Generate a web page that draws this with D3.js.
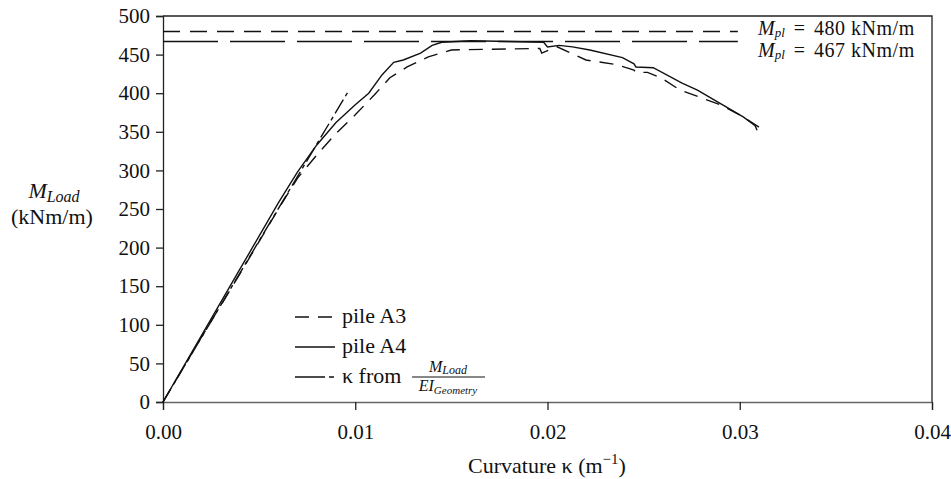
<!DOCTYPE html>
<html><head><meta charset="utf-8">
<script src="https://cdn.jsdelivr.net/npm/d3@7"></script>
<style>
body{margin:0;background:#fff;}
text{font-family:"Liberation Serif","Times New Roman",serif;fill:#111;}
</style></head>
<body><svg id="c" width="951" height="479"></svg>
<script>
// ---- data ----
const xTicks = [0, 0.01, 0.02, 0.03, 0.04];
const yTicks = [0, 50, 100, 150, 200, 250, 300, 350, 400, 450, 500];
const pileA3 = [[0,0],[0.002,84],[0.004,166],[0.006,250],[0.007,290],[0.008,320],[0.009,348],[0.010,372],[0.011,398],[0.0118,420],[0.0127,434],[0.0138,447],[0.015,456],[0.0196,458],[0.0197,452],[0.0205,460],[0.0212,452],[0.022,443],[0.0236,437],[0.0245,430],[0.0246,427],[0.0252,427],[0.0259,420],[0.0269,404],[0.029,385],[0.0302,369],[0.031,356]];
const pileA4 = [[0,0],[0.002,86],[0.004,172],[0.006,258],[0.007,298],[0.008,333],[0.009,362],[0.010,385],[0.0107,400],[0.0114,424],[0.012,440],[0.0125,443],[0.0134,452],[0.014,462],[0.0145,466],[0.016,468],[0.0198,466],[0.020,460],[0.0206,462],[0.0213,460],[0.0222,456],[0.0239,446],[0.0245,438],[0.0246,434],[0.0255,433],[0.027,413],[0.0278,404],[0.0302,369],[0.0308,358],[0.0309,352]];
const kappaGeom = [[0,0],[0.0097,405]];
const mplValues = [480, 467];
const mplEnd = 0.0299;

const svg = d3.select("#c");
const L=163, R=932, T=16, B=402;
const x = d3.scaleLinear().domain([0,0.04]).range([L,R]);
const y = d3.scaleLinear().domain([0,500]).range([B,T]);

// frame (top & right)
svg.append("path").attr("d",`M${L},${T}H${R}V${B}`).attr("fill","none").attr("stroke","#222").attr("stroke-width",1.3);

const gx = svg.append("g").attr("transform",`translate(0,${B})`)
  .call(d3.axisBottom(x).tickValues(xTicks).tickFormat(d3.format(".2f")).tickSize(8).tickPadding(14));
const gy = svg.append("g").attr("transform",`translate(${L},0)`)
  .call(d3.axisLeft(y).tickValues(yTicks).tickFormat(d3.format("d")).tickSize(7).tickPadding(6));
[gx,gy].forEach(g=>{
  g.selectAll("path.domain").attr("stroke","#222").attr("stroke-width",1.3);
  g.selectAll(".tick line").attr("stroke","#222").attr("stroke-width",1.3);
  g.selectAll("text").style("font-family",'"Liberation Serif",serif').style("font-size","21px").attr("fill","#111");
});
gx.select("path.domain").attr("stroke","#666");

const line = d3.line().x(d=>x(d[0])).y(d=>y(d[1]));
// Mpl lines
svg.append("path").datum([[0,mplValues[0]],[mplEnd,mplValues[0]]]).attr("d",line)
  .attr("fill","none").attr("stroke","#111").attr("stroke-width",1.4).attr("stroke-dasharray","17,10");
svg.append("path").datum([[0,mplValues[1]],[mplEnd,mplValues[1]]]).attr("d",line)
  .attr("fill","none").attr("stroke","#111").attr("stroke-width",1.4).attr("stroke-dasharray","55,12");

svg.append("path").datum(pileA3).attr("d",line).attr("fill","none").attr("stroke","#111")
  .attr("stroke-width",1.4).attr("stroke-dasharray","14,9");
svg.append("path").datum(pileA4).attr("d",line).attr("fill","none").attr("stroke","#111")
  .attr("stroke-width",1.4);
svg.append("path").datum(kappaGeom).attr("d",line).attr("fill","none").attr("stroke","#111")
  .attr("stroke-width",1.4).attr("stroke-dasharray","16,4,4,4");

// Mpl labels
function mpl(yb, v){
  const t = svg.append("text").attr("x",758).attr("y",yb).style("font-size","20px");
  t.append("tspan").text("M").style("font-style","italic");
  t.append("tspan").text("pl").style("font-style","italic").style("font-size","13px").attr("dy",2);
  t.append("tspan").text("=").attr("dy",-2).attr("dx",9);
  t.append("tspan").text(v+" kNm/m").attr("dx",9).style("letter-spacing","0.5px");
}
mpl(35, mplValues[0]);
mpl(57, mplValues[1]);

// y title
const yt = svg.append("text").attr("x",54).attr("y",198).attr("text-anchor","middle").style("font-size","22px");
yt.append("tspan").text("M").style("font-style","italic");
yt.append("tspan").text("Load").style("font-style","italic").style("font-size","16px").attr("dy",4);
svg.append("text").attr("x",52).attr("y",224).attr("text-anchor","middle").style("font-size","22px").text("(kNm/m)");

// x title
const xt = svg.append("text").attr("x",547).attr("y",473).attr("text-anchor","middle").style("font-size","22px");
xt.append("tspan").text("Curvature κ (m");
xt.append("tspan").text("−1").style("font-size","15px").attr("dy",-9);
xt.append("tspan").text(")").attr("dy",9);

// legend
const lg = svg.append("g");
const items=[{y:317,dash:"14,9",label:"pile A3"},{y:347,dash:null,label:"pile A4"},{y:377,dash:"30,4,5,4",label:null}];
items.forEach(it=>{
  lg.append("line").attr("x1",295).attr("x2",335).attr("y1",it.y).attr("y2",it.y)
    .attr("stroke","#111").attr("stroke-width",1.4).attr("stroke-dasharray",it.dash);
  if(it.label) lg.append("text").attr("x",342).attr("y",it.y+6).style("font-size","22px").text(it.label);
});
lg.append("text").attr("x",342).attr("y",383).style("font-size","22px").text("κ from");
const num = lg.append("text").attr("x",448).attr("y",372).attr("text-anchor","middle").style("font-size","16px");
num.append("tspan").text("M").style("font-style","italic");
num.append("tspan").text("Load").style("font-style","italic").style("font-size","12px").attr("dy",2);
lg.append("line").attr("x1",412).attr("x2",485).attr("y1",377).attr("y2",377).attr("stroke","#111").attr("stroke-width",1);
const den = lg.append("text").attr("x",448).attr("y",391).attr("text-anchor","middle").style("font-size","16px");
den.append("tspan").text("EI").style("font-style","italic");
den.append("tspan").text("Geometry").style("font-style","italic").style("font-size","11px").attr("dy",3);
</script></body></html>
